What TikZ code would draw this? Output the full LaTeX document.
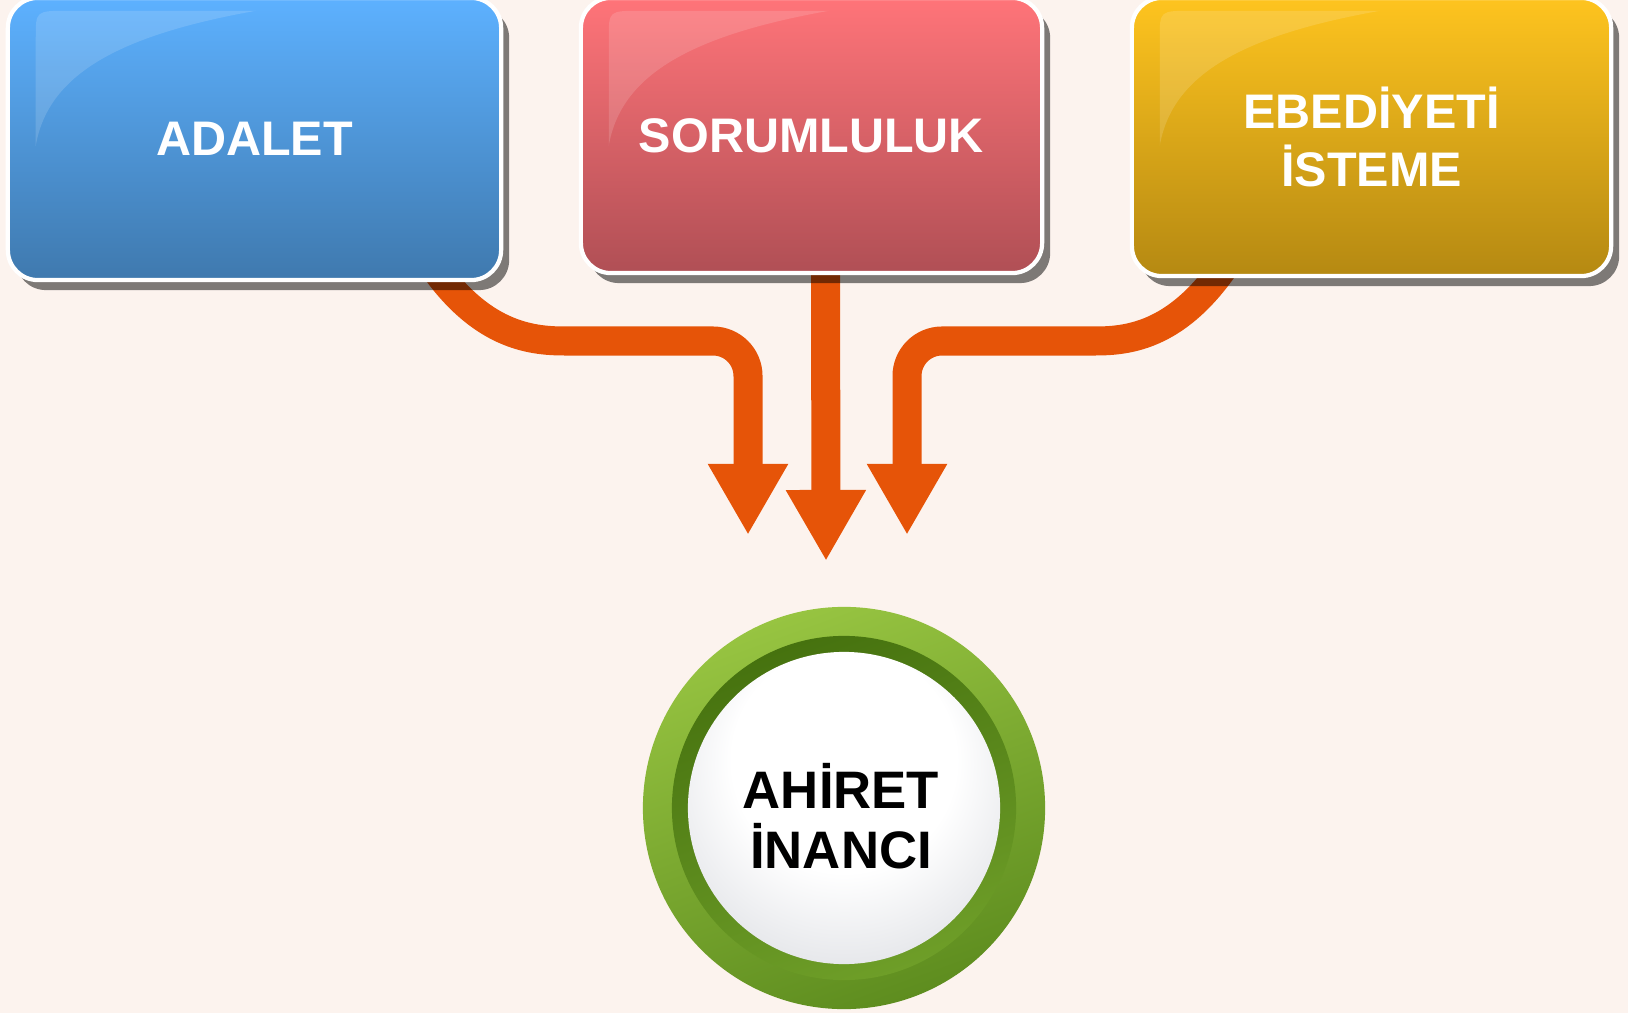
\documentclass[tikz,border=0pt]{standalone}
\usepackage{fontspec}
\setmainfont{Liberation Sans}
\usetikzlibrary{arrows.meta,shadows,calc,positioning}
\definecolor{bgpeach}{HTML}{FCF3EE}
\definecolor{arrorange}{HTML}{E65408}
\definecolor{bluetop}{HTML}{5DB1FF}
\definecolor{bluebot}{HTML}{3F79AE}
\definecolor{redtop}{HTML}{FF7479}
\definecolor{redbot}{HTML}{B04F55}
\definecolor{goldtop}{HTML}{FEC41F}
\definecolor{goldbot}{HTML}{B58912}
\definecolor{ringlight}{HTML}{97C441}
\definecolor{ringdark}{HTML}{5E8D1F}
\definecolor{ringinner}{HTML}{46720F}
\definecolor{ringinnerlow}{HTML}{6E9E28}
\definecolor{discedge}{HTML}{B4B8C2}
\pgfdeclareradialshading{discshade}{\pgfpoint{0bp}{12bp}}{color(0bp)=(white); color(18bp)=(white); color(38bp)=(discedge!55!white); color(50bp)=(discedge)}
\pgfdeclarelayer{back}
\pgfdeclarelayer{arrows}
\pgfsetlayers{back,arrows,main}
\tikzset{
  box/.style={rounded corners=0.3cm, draw=white, line width=1.2pt, text=white,
    font=\bfseries\fontsize{13.8}{16.5}\selectfont, align=center,
    drop shadow={shadow xshift=0.08cm,shadow yshift=-0.1cm,fill=black,opacity=0.5}},
  flow/.style={arrorange, line width=0.29cm, rounded corners=0.35cm,
    -{Triangle[width=0.75cm,length=0.71cm]}},
  gloss/.style={fill=white, fill opacity=0.14}
}

\begin{document}
\begin{tikzpicture}[x=0.01cm,y=-0.01cm]
  \useasboundingbox (0,0) rectangle (1628,1013);
  \begin{pgfonlayer}{back}
    \fill[bgpeach] (0,0) rectangle (1628,1013);
  \end{pgfonlayer}

  % top boxes
  \node[box, top color=bluetop, bottom color=bluebot, minimum width=4.93cm, minimum height=2.82cm] (adalet) at (254.5,139) {ADALET};
  \node[box, top color=redtop, bottom color=redbot, minimum width=4.61cm, minimum height=2.75cm] (sorum) at (811.5,135.5) {SORUMLULUK};
  \node[box, top color=goldtop, bottom color=goldbot, minimum width=4.79cm, minimum height=2.78cm] (ebed) at (1371.5,137) {EBEDİYETİ\\İSTEME};
  \foreach \b in {adalet,sorum,ebed}
    \fill[gloss] ([shift={(30,150)}]\b.north west) -- ([shift={(30,42)}]\b.north west)
      .. controls ([shift={(30,15)}]\b.north west) .. ([shift={(62,15)}]\b.north west)
      -- ([shift={(250,15)}]\b.north west)
      .. controls ([shift={(110,40)}]\b.north west) and ([shift={(42,80)}]\b.north west) .. ([shift={(30,150)}]\b.north west) -- cycle;

  % centre button
  \node[circle, minimum size=4.02cm, top color=ringlight, bottom color=ringdark, shading angle=20] (ahiret) at (844,808) {};
  \shade[top color=ringinner, bottom color=ringinnerlow, shading angle=20] (ahiret.center) circle (1.72cm);
  \shade[shading=discshade] (ahiret.center) circle (1.56cm);
  \node[font=\bfseries\fontsize{15}{17}\selectfont, align=center] (ahiretlbl) at ([shift={(-3,8)}]ahiret.center) {AHİRET\\İNANCI};

  % arrows
  \coordinate (tipL) at (748,535);
  \coordinate (tipM) at (826,561);
  \coordinate (tipR) at (907,535);
  \begin{pgfonlayer}{arrows}
    \draw[flow] ([xshift=1.76cm,yshift=0.2cm]adalet.south) .. controls (480,335) and (530,341) .. (600,341) -- (748,341) -- (tipL);
    \draw[flow] ([xshift=0.14cm,yshift=0.2cm]sorum.south) -- (tipM);
    \draw[flow] ([xshift=-1.415cm,yshift=0.2cm]ebed.south) .. controls (1180,335) and (1130,341) .. (1060,341) -- (907,341) -- (tipR);
  \end{pgfonlayer}
\end{tikzpicture}
\end{document}
